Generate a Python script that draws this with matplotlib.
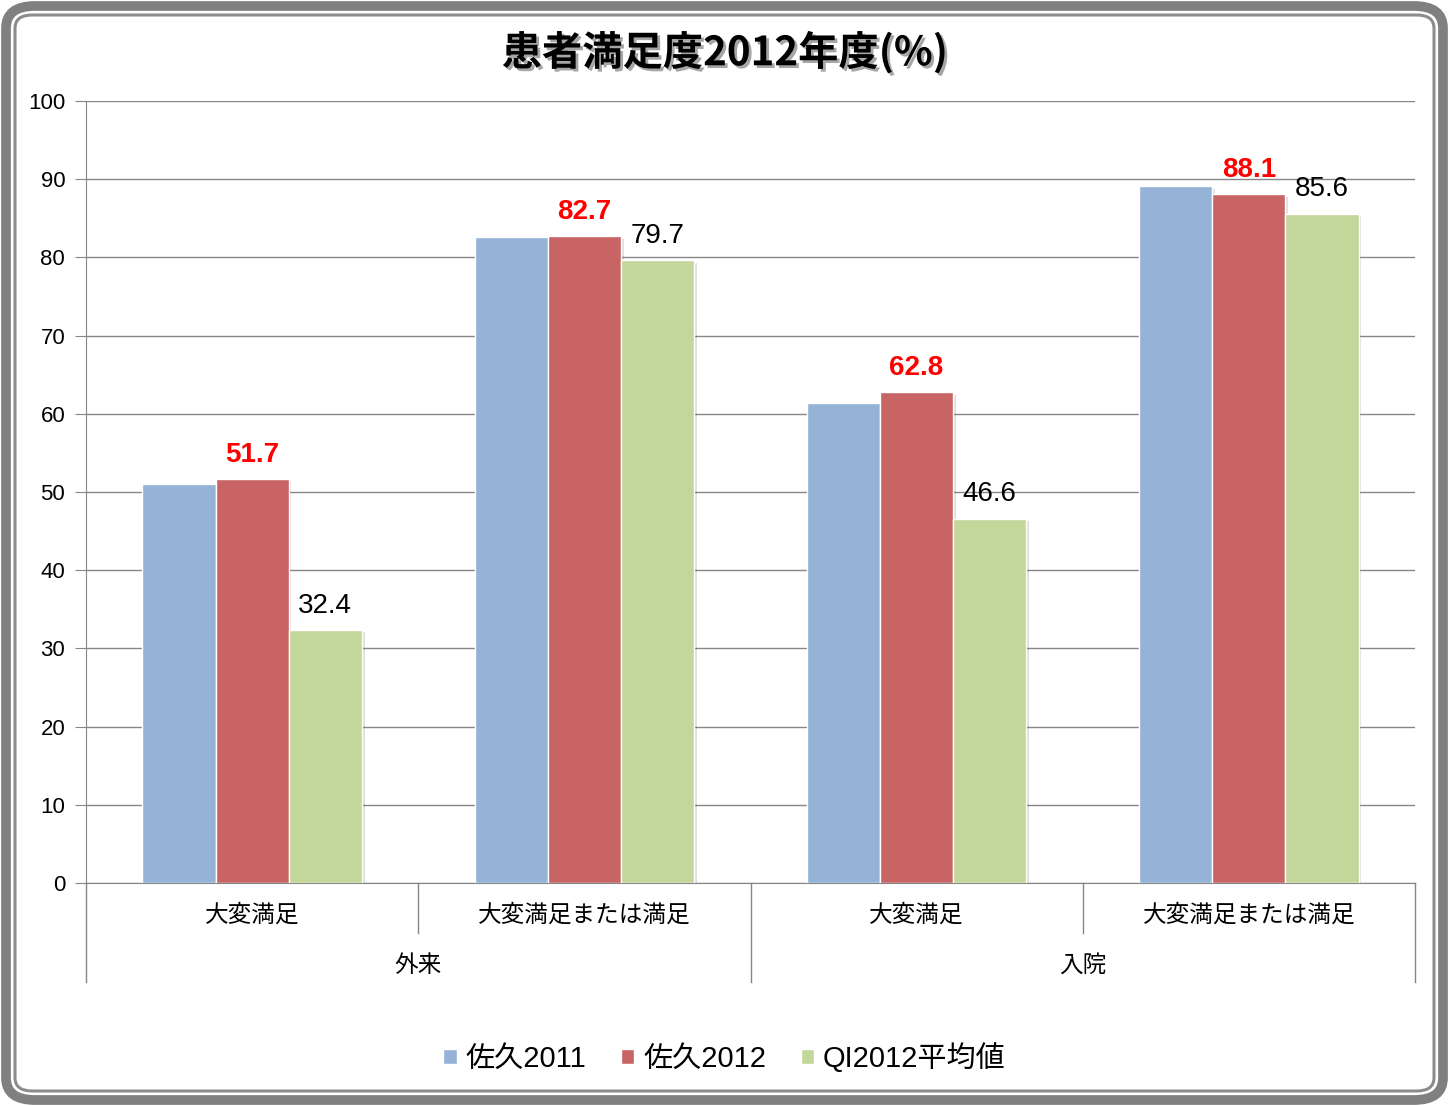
import matplotlib
matplotlib.use("Agg")
import matplotlib.pyplot as plt
import matplotlib.patheffects as pe
from matplotlib.patches import FancyBboxPatch
import numpy as np

plt.rcParams['font.family'] = ['Liberation Sans', 'Noto Sans CJK JP', 'DejaVu Sans']

title = "患者満足度2012年度(%)"
categories = ["大変満足", "大変満足または満足", "大変満足", "大変満足または満足"]
groups = ["外来", "入院"]
series_names = ["佐久2011", "佐久2012", "QI2012平均値"]
saku2011 = [51.0, 82.6, 61.4, 89.1]
saku2012 = [51.7, 82.7, 62.8, 88.1]
qi2012 = [32.4, 79.7, 46.6, 85.6]
colors = ["#95B3D7", "#C86464", "#C4D79B"]

W, H = 1449, 1106
fig = plt.figure(figsize=(W / 100, H / 100), dpi=100)

# frame
outer = FancyBboxPatch((6 / W, 6 / H), 1 - 12 / W, 1 - 12 / H,
                       boxstyle="round,pad=0,rounding_size=0.02",
                       transform=fig.transFigure, facecolor="white",
                       edgecolor="#808080", linewidth=7, zorder=-10)
fig.patches.append(outer)
inner = FancyBboxPatch((15 / W, 15 / H), 1 - 30 / W, 1 - 30 / H,
                       boxstyle="round,pad=0,rounding_size=0.012",
                       transform=fig.transFigure, facecolor="none",
                       edgecolor="#8C8C8C", linewidth=2.2, zorder=-9)
fig.patches.append(inner)

ax = fig.add_axes([86 / W, 1 - 883 / H, (1415 - 86) / W, (883 - 101) / H])
ax.set_facecolor("none")
ax.set_zorder(1)

x = np.arange(len(categories))
w = 0.22
shadow = [pe.SimplePatchShadow(offset=(2, -2), shadow_rgbFace="#000000", alpha=0.12), pe.Normal()]
all_series = [saku2011, saku2012, qi2012]
bars = []
for i, (vals, name, c) in enumerate(zip(all_series, series_names, colors)):
    b = ax.bar(x + (i - 1) * w, vals, width=w, color=c, edgecolor="white",
               linewidth=1.0, label=name, zorder=3)
    for p in b:
        p.set_path_effects(shadow)
    bars.append(b)

for rect, v in zip(bars[1], saku2012):
    ax.annotate(f"{v:.1f}", (rect.get_x() + rect.get_width() / 2, v),
                xytext=(0, 8), textcoords="offset points", ha="center", va="bottom",
                color="#FF0000", fontsize=20, fontweight="bold",
                family=['Liberation Sans'])
for rect, v in zip(bars[2], qi2012):
    ax.annotate(f"{v:.1f}", (rect.get_x() + rect.get_width() / 2, v),
                xytext=(0, 8), textcoords="offset points", ha="center", va="bottom",
                color="black", fontsize=20, family=['Liberation Sans'])

ax.set_ylim(0, 100)
ax.set_xlim(-0.5, len(categories) - 0.5)
ax.set_yticks(range(0, 101, 10))
ax.yaxis.grid(True, color="#868686", linewidth=1.0, zorder=0)
ax.set_axisbelow(True)
ax.tick_params(axis="y", length=8, color="#868686", labelsize=16, pad=7)
ax.set_xticks([])
for s in ["top", "right"]:
    ax.spines[s].set_visible(False)
ax.spines["left"].set_color("#868686")
ax.spines["bottom"].set_color("#868686")

# hierarchical category axis
tr = ax.get_xaxis_transform()
for i, c in enumerate(categories):
    ax.text(i, -0.041, c, transform=tr, ha="center", va="center", fontsize=17,
            family=['Noto Sans CJK JP'])
for sep in [0.5, 2.5]:
    ax.plot([sep, sep], [0, -0.064], transform=tr, color="#868686", lw=1, clip_on=False)
for sep in [-0.5, 1.5, 3.5]:
    ax.plot([sep, sep], [0, -0.1266], transform=tr, color="#868686", lw=1, clip_on=False)
for j, g in enumerate(groups):
    ax.text(2 * j + 0.5, -0.105, g, transform=tr, ha="center", va="center", fontsize=17,
            family=['Noto Sans CJK JP'])

fig.text(0.5, 1 - 53 / H, title, ha="center", va="center", fontsize=29,
         fontweight="bold", family=['Noto Sans CJK JP'],
         path_effects=[pe.withSimplePatchShadow(offset=(2, -2), alpha=0.35)])

leg = fig.legend(loc="center", bbox_to_anchor=(0.5, 1 - 1058 / H), ncol=3,
                 frameon=False, handlelength=0.45, handleheight=0.45,
                 handletextpad=0.3, columnspacing=1.2,
                 prop={'family': ['Liberation Sans', 'Noto Sans CJK JP'], 'size': 21})
for h in leg.legend_handles:
    h.set_path_effects([])
    h.set_edgecolor("white")

fig.savefig("out.png", dpi=100)
